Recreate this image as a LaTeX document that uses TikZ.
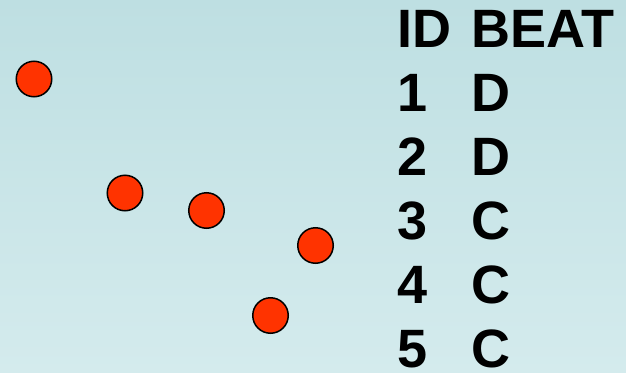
\documentclass[tikz,border=0pt]{standalone}
\usepackage{fontspec}
\setmainfont{Liberation Sans}
\usepackage{tikz}

\definecolor{bgtop}{HTML}{BEDFE2}
\definecolor{bgbot}{HTML}{D4EBED}
\definecolor{dotred}{HTML}{FF3300}

\begin{document}
\begin{tikzpicture}[
	  x=1pt, y=-1pt,
	  dot/.style={circle, draw=black, line width=1.5pt, fill=dotred,
	    minimum size=35.5pt, inner sep=0pt},
	  lbl/.style={anchor=base west, inner sep=0pt,
	    font=\bfseries\fontsize{54}{54}\selectfont},
	]

	\shade [top color=bgtop, bottom color=bgbot] (0,0) rectangle (626,372);
	\useasboundingbox (0,0) rectangle (626,372);

	\node [dot] (p1) at (34,79) {};
	\node [dot] (p2) at (125,193) {};
	\node [dot] (p3) at (206.5,210.5) {};
	\node [dot] (p4) at (315.5,245.5) {};
	\node [dot] (p5) at (270.5,315.5) {};

	\node [lbl] (hid) at (397,47) {ID};
	\node [lbl] (hbeat) at (471,47) {BEAT};
	\node [lbl] (id1) at (397,111) {1};
	\node [lbl] (bt1) at (471,111) {D};
	\node [lbl] (id2) at (397,175) {2};
	\node [lbl] (bt2) at (471,175) {D};
	\node [lbl] (id3) at (397,239) {3};
	\node [lbl] (bt3) at (471,239) {C};
	\node [lbl] (id4) at (397,303) {4};
	\node [lbl] (bt4) at (471,303) {C};
	\node [lbl] (id5) at (397,367) {5};
	\node [lbl] (bt5) at (471,367) {C};
	\end{tikzpicture}
\end{document}
